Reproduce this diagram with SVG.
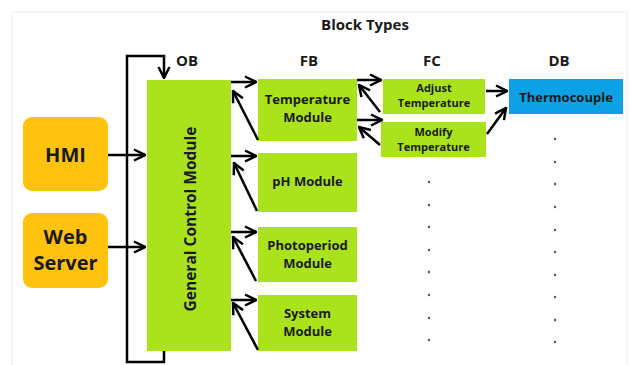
<svg xmlns="http://www.w3.org/2000/svg" width="630" height="365" viewBox="0 0 630 365">
<style>
  text { font-family: "Open Sans", "Liberation Sans", sans-serif; font-weight: bold; fill: #1a1a1a; text-anchor: middle; }
  .green { fill: #AAE21C; }
  .orange { fill: #FFC20E; }
  .blue { fill: #0CA1E4; }
  .arr { stroke: #000; stroke-width: 2.5; fill: none; marker-end: url(#ah); }
  .dot { fill: #555; }
</style>
<defs>
  <marker id="ah" viewBox="0 0 10 10" refX="9" refY="5" markerWidth="5.5" markerHeight="5.5" orient="auto" markerUnits="strokeWidth">
    <path d="M1,1 L9,5 L1,9" fill="none" stroke="#000" stroke-width="1.8"/>
  </marker>
</defs>
<rect width="630" height="365" fill="#fff"/>
<path d="M12,365 L12,12 L627,12 L627,365" fill="none" stroke="#ececec" stroke-width="1"/>

<text x="365" y="30" font-size="15">Block Types</text>
<g id="headers">
  <text x="187" y="66" font-size="15">OB</text>
  <text x="309" y="66" font-size="15">FB</text>
  <text x="432" y="66" font-size="15">FC</text>
  <text x="559" y="66" font-size="15">DB</text>
</g>

<g id="hmi">
  <rect class="orange" x="23" y="117" width="85" height="74" rx="9"/>
  <text x="65.5" y="162" font-size="20">HMI</text>
</g>
<g id="webserver">
  <rect class="orange" x="23" y="213" width="85" height="75" rx="9"/>
  <text x="65.5" y="244" font-size="20">Web</text>
  <text x="65.5" y="270" font-size="20">Server</text>
</g>
<g id="gcm">
  <rect class="green" x="147" y="80" width="84" height="271"/>
  <text transform="translate(196,219) rotate(-90)" font-size="15.5">General Control Module</text>
</g>

<g id="temp">
  <rect class="green" x="258" y="79" width="99" height="62"/>
  <text x="307.5" y="104" font-size="13">Temperature</text>
  <text x="307.5" y="122" font-size="13">Module</text>
</g>
<g id="ph">
  <rect class="green" x="258" y="153" width="99" height="59"/>
  <text x="307.5" y="186" font-size="13">pH Module</text>
</g>
<g id="photo">
  <rect class="green" x="258" y="227" width="99" height="55"/>
  <text x="307.5" y="250" font-size="13">Photoperiod</text>
  <text x="307.5" y="268" font-size="13">Module</text>
</g>
<g id="system">
  <rect class="green" x="258" y="295" width="99" height="56"/>
  <text x="307.5" y="318" font-size="13">System</text>
  <text x="307.5" y="336" font-size="13">Module</text>
</g>

<g id="adjust">
  <rect class="green" x="383" y="79" width="102" height="35"/>
  <text x="434" y="92" font-size="11">Adjust</text>
  <text x="434" y="107" font-size="11">Temperature</text>
</g>
<g id="modify">
  <rect class="green" x="381" y="122" width="105" height="35"/>
  <text x="433.5" y="136" font-size="11">Modify</text>
  <text x="433.5" y="151" font-size="11">Temperature</text>
</g>
<g id="thermo">
  <rect class="blue" x="509" y="79" width="114" height="35"/>
  <text x="566" y="102" font-size="13">Thermocouple</text>
</g>

<g id="connectors">
  <path class="arr" d="M164,351 L164,362 L127,362 L127,56 L164,56 L164,78"/>
  <path class="arr" d="M108,155 L145,155"/>
  <path class="arr" d="M108,247 L145,247"/>

  <path class="arr" d="M231,82 L256,82"/>
  <path class="arr" d="M258,140 L233,91"/>
  <path class="arr" d="M231,156 L256,156"/>
  <path class="arr" d="M257,211 L234,163"/>
  <path class="arr" d="M231,232 L256,232"/>
  <path class="arr" d="M256,281 L233,237"/>
  <path class="arr" d="M231,300 L256,300"/>
  <path class="arr" d="M258,350 L233,303"/>

  <path class="arr" d="M357,80 L381,80"/>
  <path class="arr" d="M380,112 L359,85"/>
  <path class="arr" d="M357,120 L382,120"/>
  <path class="arr" d="M380,145 L359,127"/>

  <path class="arr" d="M486,91 L507,91"/>
  <path class="arr" d="M487,134 L506,108"/>
</g>

<g id="dots">
  <circle class="dot" cx="429" cy="182" r="1.2"/>
  <circle class="dot" cx="429" cy="205" r="1.2"/>
  <circle class="dot" cx="429" cy="227" r="1.2"/>
  <circle class="dot" cx="429" cy="250" r="1.2"/>
  <circle class="dot" cx="429" cy="272" r="1.2"/>
  <circle class="dot" cx="429" cy="295" r="1.2"/>
  <circle class="dot" cx="429" cy="318" r="1.2"/>
  <circle class="dot" cx="429" cy="340" r="1.2"/>
  <circle class="dot" cx="555" cy="139" r="1.2"/>
  <circle class="dot" cx="555" cy="162" r="1.2"/>
  <circle class="dot" cx="555" cy="184" r="1.2"/>
  <circle class="dot" cx="555" cy="207" r="1.2"/>
  <circle class="dot" cx="555" cy="230" r="1.2"/>
  <circle class="dot" cx="555" cy="252" r="1.2"/>
  <circle class="dot" cx="555" cy="275" r="1.2"/>
  <circle class="dot" cx="555" cy="297" r="1.2"/>
  <circle class="dot" cx="555" cy="320" r="1.2"/>
  <circle class="dot" cx="555" cy="342" r="1.2"/>
</g>
</svg>
